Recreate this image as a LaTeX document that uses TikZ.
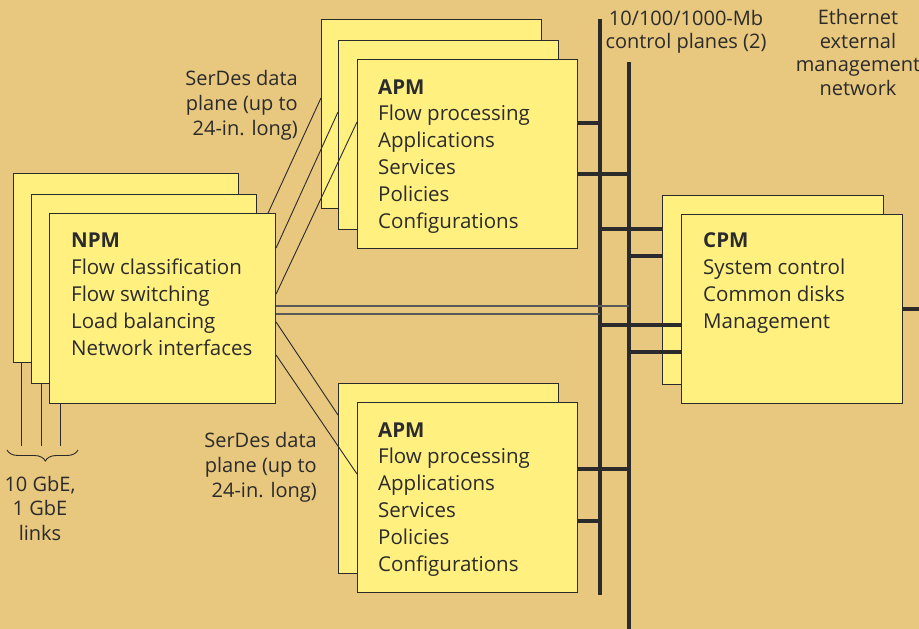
\documentclass[tikz,border=0pt]{standalone}
\usepackage{fontspec}
\setmainfont{Open Sans}
\usetikzlibrary{decorations.pathreplacing}
\definecolor{bgtan}{RGB}{232,199,126}
\definecolor{cardyellow}{RGB}{255,240,128}
\definecolor{ink}{RGB}{43,43,43}
\definecolor{wire}{RGB}{88,88,88}
\tikzset{
	card/.style={draw=ink,fill=cardyellow,line width=1.1pt,anchor=north west,minimum width=220pt,minimum height=189pt,inner sep=0pt},
	cardtext/.style={anchor=base west,align=left,inner sep=0pt,text=ink,font=\fontsize{20.5}{26.8}\selectfont},
	note/.style={inner sep=0pt,text=ink,font=\fontsize{20}{23.5}\selectfont},
	bus/.style={draw=ink,line width=4.2pt},
	serdes/.style={draw=ink,line width=0.9pt},
	ctrl/.style={draw=wire,line width=1.6pt},
}
\begin{document}
\begin{tikzpicture}[x=1pt,y=-1pt]
	\fill[bgtan](0,0) rectangle (919,629);
	\useasboundingbox(0,0) rectangle (919,629);
	\coordinate(busAtop) at(600,19);
	\coordinate(busAbot) at(600,595);
	\coordinate(busBtop) at(629,62);
	\coordinate(busBbot) at(629,629);
	\coordinate(ethout) at(919,309);
	\coordinate(link1) at(21,446);
	\coordinate(link2) at(41,446);
	\coordinate(link3) at(60,446);
	\node[card,minimum width=225pt](npm1) at(13,173){};
	\node[card,minimum width=225pt](npm2) at(31,194){};
	\node[card,minimum width=226pt,minimum height=190pt](npm3) at(49,213){};
	\node[card](apm1) at(321,19){};
	\node[card](apm2) at(338,40){};
	\node[card](apm3) at(357,59){};
	\node[card,minimum height=190pt](apm4) at(338,383){};
	\node[card,minimum height=190pt](apm5) at(357,402){};
	\node[card,minimum width=221pt](cpm1) at(662,195){};
	\node[card,minimum width=221pt](cpm2) at(681,214){};
	\node[cardtext](npmtext) at(71,355){\textbf{NPM}\\Flow classification\\Flow switching\\Load balancing\\Network interfaces};
	\node[cardtext](apmtexta) at(378,228){\textbf{APM}\\Flow processing\\Applications\\Services\\Policies\\Configurations};
	\node[cardtext](apmtextb) at(378,571){\textbf{APM}\\Flow processing\\Applications\\Services\\Policies\\Configurations};
	\node[cardtext](cpmtext) at(703,328){\textbf{CPM}\\System control\\Common disks\\Management};
	\draw[serdes](npm1.south -| link1)--(link1);
	\draw[serdes](npm2.south -| link2)--(link2);
	\draw[serdes](npm3.south -| link3)--(link3);
	\draw[serdes,decorate,decoration={brace,amplitude=11pt,aspect=0.46}](78,450)--(7,450);
	\draw[serdes]([xshift=-8pt]npm3.north east)--([yshift=-79pt]apm1.north west);
	\draw[serdes]([yshift=-35pt]npm3.north east)--([yshift=-72pt]apm2.north west);
	\draw[serdes]([yshift=-81pt]npm3.north east)--([yshift=-63pt]apm3.north west);
	\draw[serdes]([yshift=-109pt]npm3.north east)--([yshift=-32pt]apm4.north west);
	\draw[serdes]([yshift=-142pt]npm3.north east)--([yshift=-72pt]apm5.north west);
	\draw[bus](busAtop)--(busAbot);
	\draw[bus](busBtop)--(busBbot);
	\draw[bus](apm3.east |- 0,123)--(busAtop |- 0,123);
	\draw[bus](apm3.east |- 0,174)--(busBtop |- 0,174);
	\draw[bus](busAtop |- 0,229)--(cpm1.west |- 0,229);
	\draw[bus](busBtop |- 0,256)--(cpm1.west |- 0,256);
	\draw[bus](busAtop |- 0,325)--(cpm2.west |- 0,325);
	\draw[bus](busBtop |- 0,352)--(cpm2.west |- 0,352);
	\draw[bus](apm5.east |- 0,469)--(busBtop |- 0,469);
	\draw[bus](apm5.east |- 0,521)--(busAtop |- 0,521);
	\draw[bus](cpm2.east |- ethout)--(ethout);
	\draw[ctrl]([yshift=-93pt]npm3.north east)--(busBtop |- 0,306);
	\draw[ctrl]([yshift=-101pt]npm3.north east)--(busAtop |- 0,314);
	\node[note,align=right,anchor=base east,font=\fontsize{20}{25}\selectfont](serdesa) at(298,135){SerDes data\\plane (up to\\24-in. long)};
	\node[note,align=right,anchor=base east,font=\fontsize{20}{25}\selectfont](serdesb) at(317,497){SerDes data\\plane (up to\\24-in. long)};
	\node[note,align=center,anchor=base,font=\fontsize{20}{23}\selectfont](ctrlplanes) at(686,48){10/100/1000-Mb\\control planes (2)};
	\node[note,align=center,anchor=base](ethnet) at(858,95){Ethernet\\external\\management\\network};
	\node[note,align=center,anchor=base,font=\fontsize{20}{24.5}\selectfont](links) at(40,540){10 GbE,\\1 GbE\\links};
\end{tikzpicture}
\end{document}
